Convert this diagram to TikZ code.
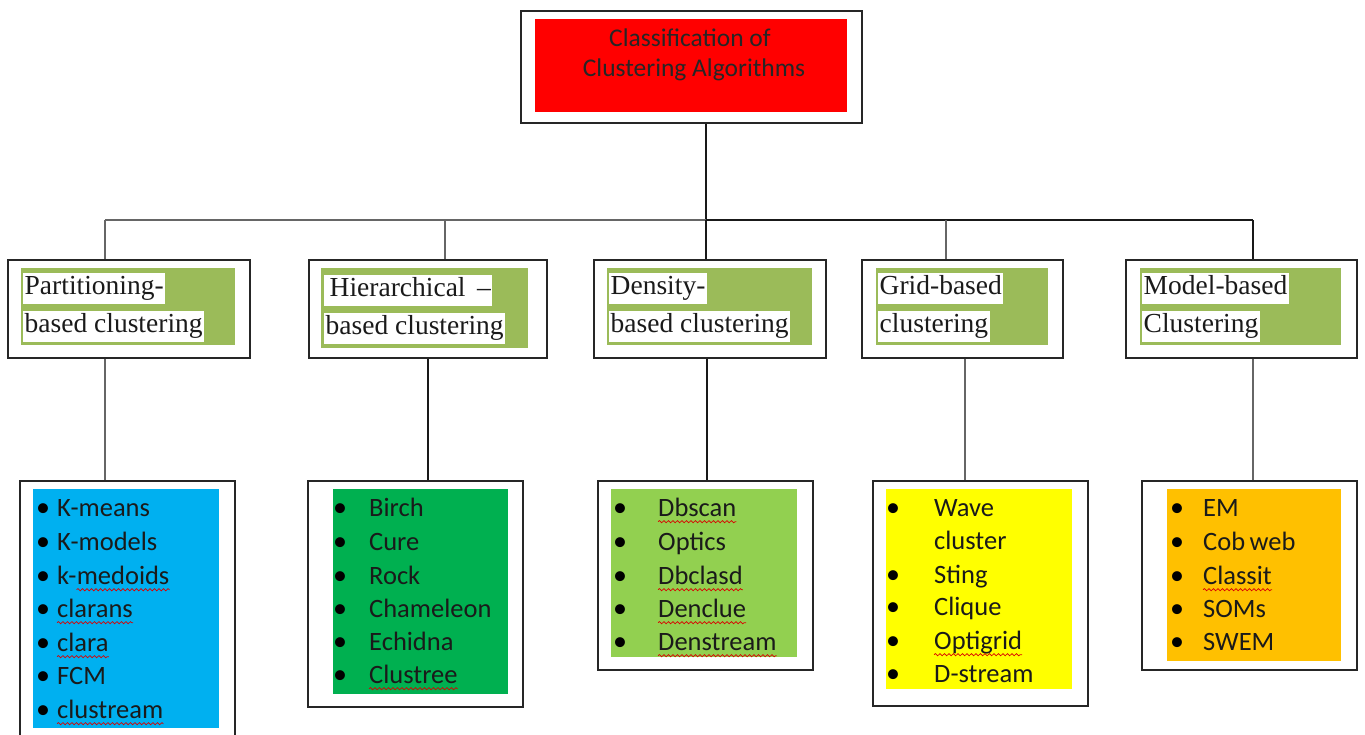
\documentclass[tikz,border=0pt]{standalone}
\usepackage{fontspec}
\setmainfont{Liberation Serif}
\newfontfamily\calfont{Carlito}
\usetikzlibrary{decorations.pathmorphing}
\definecolor{cblue}{HTML}{00B0F0}
\definecolor{cgreen}{HTML}{00B050}
\definecolor{clgreen}{HTML}{92D050}
\definecolor{cyellow}{HTML}{FFFF00}
\definecolor{corange}{HTML}{FFC000}
\definecolor{cred}{HTML}{FF0000}
\definecolor{cat}{HTML}{9BBB59}
\definecolor{txt}{HTML}{1A1A1A}
\tikzset{
  outerbox/.style={draw=black!85, line width=1.4pt, fill=white, inner sep=0pt},
  panel/.style={inner sep=0pt, draw=none},
  catline/.style={fill=white, anchor=west, inner xsep=1.5pt, inner ysep=2pt,
     text height=20pt, text depth=7pt, font=\rmfamily\fontsize{27.5}{30}\selectfont, text=txt},
  item/.style={anchor=west, inner sep=0pt, text height=19pt, text depth=6pt,
     font=\calfont\fontsize{26.5}{30}\selectfont, text=txt},
  bul/.style={inner sep=0pt, font=\calfont\fontsize{28}{30}\selectfont, text=black},
  wave/.style={draw=red!85!black, line width=0.7pt, decorate,
     decoration={snake, segment length=4.5pt, amplitude=1.1pt}},
  link/.style={draw=black!90, line width=1.05pt},
  glink/.style={draw=black!60, line width=1.6pt}
}
\newcommand{\items}[4]{% #1 prefix, #2 bullet x, #3 text x, #4 list of y/name/text
  \foreach \yy/\nn/\tt in {#4} {
    \node[bul] (#1b\nn) at (#2,\yy) {•};
    \node[item] (#1\nn) at (#3,\yy) {\tt};
  }}
\begin{document}
\begin{tikzpicture}[x=1pt,y=-1pt]
\useasboundingbox (0,0) rectangle (1365,734);

% ---- top box
\node[outerbox, minimum width=341, minimum height=112] (top) at (691.5,67) {};
\node[panel, fill=cred, minimum width=312, minimum height=93] (topin) at (691,65.5) {};
\node[inner sep=0pt, font=\calfont\fontsize{25.5}{30}\selectfont, text=black!85] (t1) at (690,38) {Classification of};
\node[inner sep=0pt, font=\calfont\fontsize{25.5}{30}\selectfont, text=black!85] (t2) at (694,70) {Clustering Algorithms};

% ---- branch x positions
\coordinate (bus) at (0,220);
\coordinate (u1) at (105,0);
\coordinate (u2) at (445,0);
\coordinate (u3) at (706,0);
\coordinate (u4) at (946,0);
\coordinate (u5) at (1253,0);
\coordinate (d1) at (105,0);
\coordinate (d2) at (428,0);
\coordinate (d3) at (707,0);
\coordinate (d4) at (965,0);
\coordinate (d5) at (1253,0);

% ---- category boxes
\node[outerbox, minimum width=242, minimum height=98] (c1) at (129,309) {};
\node[outerbox, minimum width=238, minimum height=98] (c2) at (428,309) {};
\node[outerbox, minimum width=232, minimum height=98] (c3) at (710,309) {};
\node[outerbox, minimum width=201, minimum height=98] (c4) at (962.5,309) {};
\node[outerbox, minimum width=231, minimum height=98] (c5) at (1241.5,309) {};

\fill[cat] (21,268) rectangle (235,345);
\fill[cat] (321,268) rectangle (528,348);
\fill[cat] (607,268) rectangle (812,345);
\fill[cat] (876,268) rectangle (1048,345);
\fill[cat] (1140,268) rectangle (1341,345);

\node[catline] (p1) at (23,288) {Partitioning-};
\node[catline] (p2) at (23,326) {based clustering};
\node[catline] (h1) at (324,290) {\hspace{4pt}Hierarchical \,–};
\node[catline] (h2) at (324,328) {based clustering};
\node[catline] (e1) at (609,288) {Density-};
\node[catline] (e2) at (609,326) {based clustering};
\node[catline] (g1) at (878,288) {Grid-based};
\node[catline] (g2) at (878,326) {clustering};
\node[catline] (m1) at (1142,288) {Model-based};
\node[catline] (m2) at (1142,326) {Clustering};

% ---- list boxes
\node[outerbox, minimum width=215, minimum height=256] (l1) at (127.5,609) {};
\node[outerbox, minimum width=215, minimum height=226] (l2) at (415.5,594) {};
\node[outerbox, minimum width=215, minimum height=189] (l3) at (705.5,575.5) {};
\node[outerbox, minimum width=215, minimum height=225] (l4) at (980.5,593.5) {};
\node[outerbox, minimum width=215, minimum height=189] (l5) at (1249.5,575.5) {};

\fill[cblue] (33,489) rectangle (219,728);
\fill[cgreen] (333,489) rectangle (508,694);
\fill[clgreen] (611,489) rectangle (797,657);
\fill[cyellow] (886,489) rectangle (1072,689);
\fill[corange] (1167,489) rectangle (1341,661);

% ---- connectors
\draw[link] (u3 |- top.south) -- (u3 |- bus);
\draw[link] (u1 |- bus) -- (u5 |- bus);
\draw[glink] (u1 |- bus) -- (u3 |- bus);
\draw[glink] (u1 |- bus) -- (u1 |- c1.north);
\draw[glink] (u2 |- bus) -- (u2 |- c2.north);
\draw[link] (u3 |- bus) -- (u3 |- c3.north);
\draw[glink] (u4 |- bus) -- (u4 |- c4.north);
\draw[link] (u5 |- bus) -- (u5 |- c5.north);
\draw[glink] (d1 |- c1.south) -- (d1 |- l1.north);
\draw[link] (d2 |- c2.south) -- (d2 |- l2.north);
\draw[link] (d3 |- c3.south) -- (d3 |- l3.north);
\draw[glink] (d4 |- c4.south) -- (d4 |- l4.north);
\draw[glink] (d5 |- c5.south) -- (d5 |- l5.north);

% ---- list items
\items{a}{43}{57}{510/1/K-means, 544/2/K-models, 611/4/clarans, 645/5/clara, 678/6/FCM, 712/7/clustream}
\node[bul] (ab3) at (43,578) {•};
\node[item] (a3) at (57,578) {k-};
\node[item, anchor=west] (a3b) at (a3.east) {medoids};
\items{b}{340}{369}{510/1/Birch, 544/2/Cure, 578/3/Rock, 611/4/Chameleon, 644/5/Echidna, 677/6/Clustree}
\items{c}{620}{658}{510/1/Dbscan, 544/2/Optics, 578/3/Dbclasd, 611/4/Denclue, 644/5/Denstream}
\items{d}{893}{934}{510/1/Wave, 577/3/Sting, 609/4/Clique, 643/5/Optigrid, 676/6/D-stream}
\node[item] (d2) at (934,543) {cluster};
\items{e}{1177}{1203}{510/1/EM, 544/2/Cob\,web, 578/3/Classit, 611/4/SOMs, 644/5/SWEM}

% ---- spelling underlines
\foreach \n in {a3b,a4,a5,a7,b6,c1,c3,c4,c5,d5,e3}
  \draw[wave] ([yshift=1pt]\n.south west) -- ([yshift=1pt]\n.south east);
\end{tikzpicture}
\end{document}
